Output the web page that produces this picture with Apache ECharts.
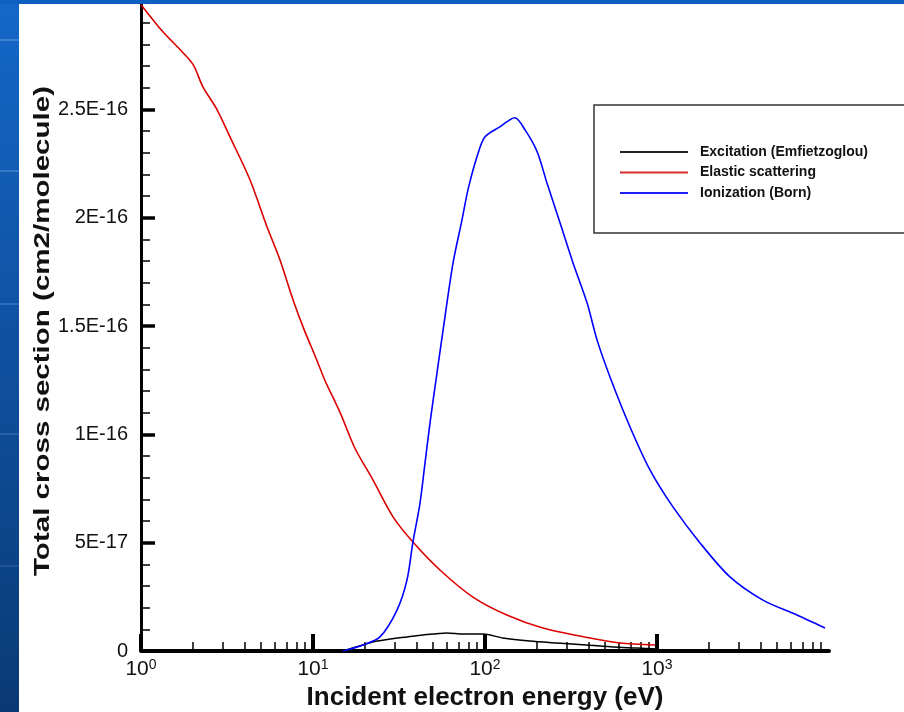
<!DOCTYPE html>
<html>
<head>
<meta charset="utf-8">
<script src="https://cdn.jsdelivr.net/npm/echarts@6/dist/echarts.min.js"></script>
<style>
html,body{margin:0;padding:0;background:#fff;}
#chart{width:904px;height:712px;}
</style>
</head>
<body>
<div id="chart"></div>
<script>
// ---- data ----
const seriesNames = ['Excitation (Emfietzoglou)', 'Elastic scattering', 'Ionization (Born)'];
const xAxisTitle = 'Incident electron energy (eV)';
const yAxisTitle = 'Total cross section (cm2/molecule)';

const excitationEnergy = [14.9, 19.5, 22.3, 28.1, 35.2, 43.6, 60.1, 74.5, 97.7, 127, 182, 262, 390, 556, 765, 1000];
const excitationSigma  = [0, 2.8e-18, 4.2e-18, 5.5e-18, 6.5e-18, 7.4e-18, 8.3e-18, 7.8e-18, 7.8e-18, 6.0e-18, 4.6e-18, 3.7e-18, 2.8e-18, 1.8e-18, 1.4e-18, 0.9e-18];

const elasticEnergy = [1, 1.34, 1.69, 2.01, 2.29, 2.77, 3.29, 4.30, 5.40, 6.43, 7.65, 8.75, 10.5, 11.7, 14.4, 17.5, 22.3, 29.2, 38.1, 54.7, 85.1, 134, 217, 408, 609, 973];
const elasticSigma  = [2.983e-16, 2.858e-16, 2.775e-16, 2.706e-16, 2.604e-16, 2.498e-16, 2.373e-16, 2.175e-16, 1.958e-16, 1.805e-16, 1.621e-16, 1.496e-16, 1.344e-16, 1.251e-16, 1.099e-16, 9.37e-17, 7.90e-17, 6.19e-17, 5.03e-17, 3.74e-17, 2.49e-17, 1.66e-17, 1.06e-17, 6.0e-18, 3.7e-18, 2.8e-18];

const ionizationEnergy = [14.9, 19.5, 24.5, 30.8, 35.2, 38.1, 41.9, 44.8, 47.9, 51.9, 56.2, 65.2, 73.5, 79.6, 89.8, 100, 122, 149, 171, 201, 229, 273, 325, 392, 448, 533, 697, 910, 1238, 1778, 2656, 4130, 6515, 9480];
const ionizationSigma  = [0, 2.8e-18, 6.5e-18, 1.89e-17, 3.28e-17, 5.03e-17, 6.83e-17, 8.68e-17, 1.053e-16, 1.251e-16, 1.445e-16, 1.791e-16, 1.990e-16, 2.128e-16, 2.281e-16, 2.373e-16, 2.419e-16, 2.461e-16, 2.405e-16, 2.304e-16, 2.161e-16, 1.976e-16, 1.791e-16, 1.607e-16, 1.436e-16, 1.265e-16, 1.034e-16, 8.36e-17, 6.65e-17, 4.99e-17, 3.42e-17, 2.35e-17, 1.66e-17, 1.06e-17];

const yTickLabels = ['0', '5E-17', '1E-16', '1.5E-16', '2E-16', '2.5E-16', ''];
const xMajorTicks = [1, 10, 100, 1000];
const xTickExponents = ['0', '1', '2', '3'];
const xMinorTicks = [2,3,4,5,6,7,8,9,20,30,40,50,60,70,80,90,200,300,400,500,600,700,800,900,2000,3000,4000,5000,6000,7000,8000,9000];

function zip(a, b) { return a.map((v, i) => [v, b[i]]); }

const FONT = '"Liberation Sans", Arial, sans-serif';
const chart = echarts.init(document.getElementById('chart'));

const option = {
  backgroundColor: '#ffffff',
  animation: false,
  grid: { left: 141, right: 75, top: 1, bottom: 61, containLabel: false, outerBoundsMode: 'none' },
  legend: {
    data: seriesNames,
    orient: 'vertical',
    left: 594, top: 105,
    padding: [40, 60, 33, 26],
    itemGap: 6.5,
    itemWidth: 68, itemHeight: 2,
    icon: 'rect',
    borderColor: '#333', borderWidth: 1.5,
    textStyle: { fontFamily: FONT, fontSize: 14, fontWeight: 'bold', color: '#111', padding: [0, 0, 0, 7] }
  },
  xAxis: [{
    type: 'log', logBase: 10, min: 1, max: 10000,
    name: xAxisTitle, nameLocation: 'middle', nameGap: 21,
    nameTextStyle: { fontFamily: FONT, fontSize: 26, fontWeight: 'bold', color: '#111' },
    axisLine: { show: true, onZero: false, lineStyle: { color: '#000', width: 4 } },
    axisTick: { show: true, inside: true, length: 17, customValues: xMajorTicks, lineStyle: { color: '#000', width: 4 } },
    axisLabel: {
      show: true, margin: 7, customValues: xMajorTicks,
      formatter: function (v) {
        const i = xMajorTicks.indexOf(Math.round(v));
        return i < 0 ? '' : '{b|10}{s|' + xTickExponents[i] + '}';
      },
      rich: {
        b: { fontFamily: FONT, fontSize: 21, color: '#111', lineHeight: 22 },
        s: { fontFamily: FONT, fontSize: 14, color: '#111', lineHeight: 22, verticalAlign: 'top', padding: [0, 0, 8, 0] }
      }
    },
    splitLine: { show: false }
  }, {
    type: 'log', logBase: 10, min: 1, max: 10000, position: 'bottom',
    axisLine: { show: false },
    axisTick: { show: true, inside: true, length: 9, customValues: xMinorTicks, lineStyle: { color: '#000', width: 1.5 } },
    axisLabel: { show: false },
    splitLine: { show: false }
  }],
  yAxis: {
    type: 'value', min: 0, max: 3e-16, interval: 5e-17,
    axisLine: { show: true, lineStyle: { color: '#000', width: 3 } },
    axisTick: { show: true, inside: true, length: 14, lineStyle: { color: '#000', width: 3.5 } },
    minorTick: { show: true, splitNumber: 5, length: 9, lineStyle: { color: '#000', width: 1.5 } },
    axisLabel: {
      margin: 13, fontFamily: FONT, fontSize: 20, color: '#111',
      formatter: function (v) { const i = Math.round(v / 5e-17); return yTickLabels[i] || ''; }
    },
    splitLine: { show: false }
  },
  series: [
    { name: seriesNames[0], type: 'line', showSymbol: false, smooth: 0.25, data: zip(excitationEnergy, excitationSigma),
      lineStyle: { color: '#000', width: 1.5 }, itemStyle: { color: '#222' } },
    { name: seriesNames[1], type: 'line', showSymbol: false, smooth: 0.3, data: zip(elasticEnergy, elasticSigma),
      lineStyle: { color: '#dd0000', width: 1.6 }, itemStyle: { color: '#d83030' } },
    { name: seriesNames[2], type: 'line', showSymbol: false, smooth: 0.3, data: zip(ionizationEnergy, ionizationSigma),
      lineStyle: { color: '#0000ff', width: 1.6 }, itemStyle: { color: '#2020ff' } }
  ],
  graphic: [
    { type: 'text', z: 50, x: 43, y: 331, rotation: Math.PI / 2, scaleX: 1.23, scaleY: 0.95,
      style: { text: yAxisTitle, fontFamily: FONT, fontSize: 24, fontWeight: 'bold', fill: '#111',
               align: 'center', verticalAlign: 'middle' } },
    { type: 'rect', z: 100, shape: { x: 0, y: 0, width: 19, height: 712 },
      style: { fill: new echarts.graphic.LinearGradient(0, 0, 0, 1, [
        { offset: 0, color: '#1467c9' }, { offset: 1, color: '#0a3a75' }]) } },
    { type: 'rect', z: 100, shape: { x: 0, y: 0, width: 904, height: 4 }, style: { fill: '#0d5fc0' } },
    { type: 'line', z: 101, shape: { x1: 0, y1: 40, x2: 19, y2: 40 }, style: { stroke: '#3a7fd0', lineWidth: 2 } },
    { type: 'line', z: 101, shape: { x1: 0, y1: 171, x2: 19, y2: 171 }, style: { stroke: '#3478c6', lineWidth: 2 } },
    { type: 'line', z: 101, shape: { x1: 0, y1: 304, x2: 19, y2: 304 }, style: { stroke: '#2d6cb8', lineWidth: 2 } },
    { type: 'line', z: 101, shape: { x1: 0, y1: 434, x2: 19, y2: 434 }, style: { stroke: '#2661a8', lineWidth: 2 } },
    { type: 'line', z: 101, shape: { x1: 0, y1: 566, x2: 19, y2: 566 }, style: { stroke: '#1f5596', lineWidth: 2 } }
  ]
};
chart.setOption(option);
</script>
</body>
</html>
